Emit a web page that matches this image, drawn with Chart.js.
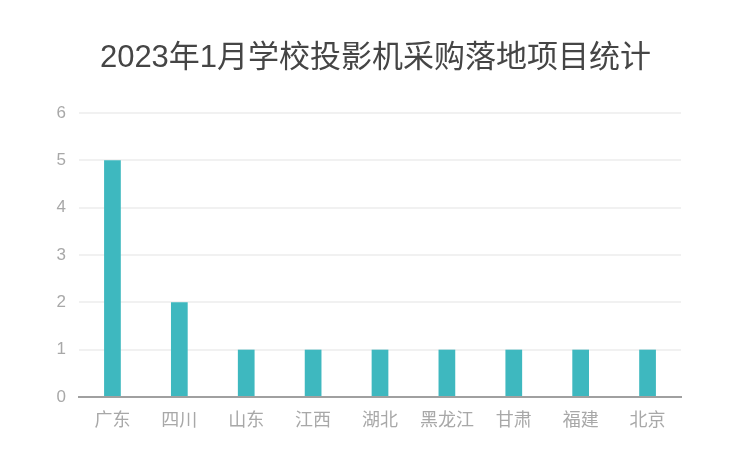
<!DOCTYPE html>
<html>
<head>
<meta charset="utf-8">
<script src="https://cdn.jsdelivr.net/npm/chart.js@4/dist/chart.umd.min.js"></script>
<style>
html,body{margin:0;padding:0;background:#fff;}
#wrap{width:751px;height:451px;}
</style>
</head>
<body>
<div id="wrap"><canvas id="c" width="751" height="451"></canvas></div>
<script>
const categories = ['广东','四川','山东','江西','湖北','黑龙江','甘肃','福建','北京'];
const projectCounts = [5,2,1,1,1,1,1,1,1];
const titleText = '2023年1月学校投影机采购落地项目统计';
const FONT = '"Liberation Sans", "Noto Sans CJK SC", sans-serif';

new Chart(document.getElementById('c'), {
  type: 'bar',
  data: {
    labels: categories,
    datasets: [{
      data: projectCounts,
      backgroundColor: '#3eb8bf',
      barPercentage: 0.25,
      categoryPercentage: 1
    }]
  },
  options: {
    responsive: false,
    animation: false,
    devicePixelRatio: 1,
    layout: { padding: { left: 0, right: 0, top: 0, bottom: 0 } },
    plugins: {
      legend: { display: false },
      tooltip: { enabled: false },
      title: {
        display: true,
        text: titleText,
        color: '#454545',
        font: { family: FONT, size: 31, weight: 'normal' },
        padding: { top: 40, bottom: 35.8 }
      }
    },
    scales: {
      x: {
        grid: { display: false, drawTicks: false },
        border: { display: true, color: '#a0a0a0', width: 2 },
        ticks: { color: '#a8a8a8', font: { family: FONT, size: 18 }, padding: 13, maxRotation: 0 },
        afterFit: (s) => { s.height = 54; }
      },
      y: {
        min: 0, max: 6,
        grid: { color: '#f1f1f1', lineWidth: 2, drawTicks: false },
        border: { display: false },
        ticks: { stepSize: 1, color: '#a8a8a8', font: { family: FONT, size: 17 }, padding: 13 },
        afterFit: (s) => { s.width = 79; }
      },
      yRight: {
        position: 'right',
        min: 0, max: 6,
        grid: { display: false, drawTicks: false },
        border: { display: false },
        ticks: { display: false },
        afterFit: (s) => { s.width = 70; }
      }
    }
  }
});
</script>
</body>
</html>
